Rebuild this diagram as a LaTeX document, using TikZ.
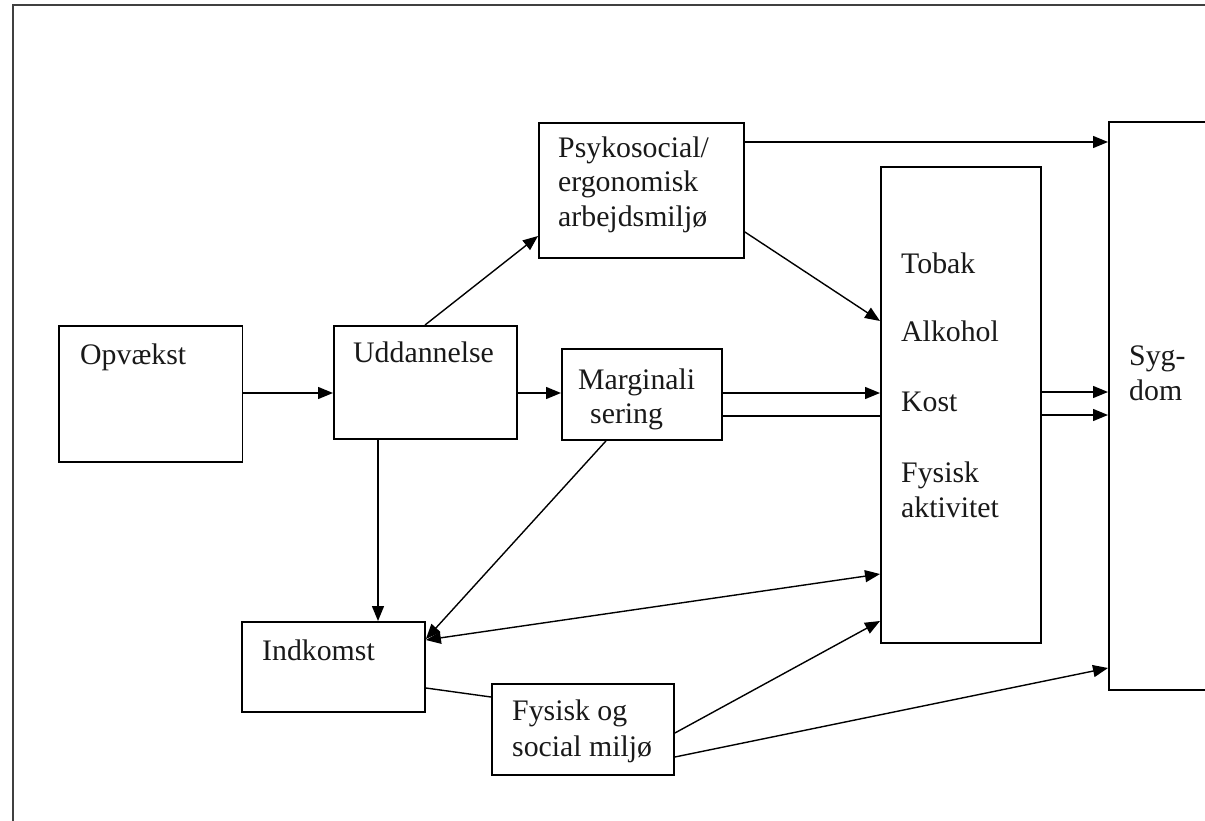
\documentclass[tikz,border=0pt]{standalone}
\usepackage{fontspec}
\setmainfont{Liberation Serif}
\usetikzlibrary{arrows.meta}
\begin{document}
\begin{tikzpicture}[x=1pt,y=-1pt,
 box/.style={draw, line width=1.9pt, rectangle, inner sep=0pt, anchor=north west},
 txt/.style={inner sep=0pt, anchor=base west, text=black!90, font=\fontsize{29.8}{34}\selectfont},
 arr/.style={line width=1.4pt, -{Triangle[length=15pt,width=12pt]}},
 con/.style={line width=1.4pt},
 dbl/.style={line width=1.4pt, {Triangle[length=15pt,width=12pt]}-{Triangle[length=15pt,width=12pt]}}]
\useasboundingbox (0,0) rectangle (1205,821);
\clip (0,0) rectangle (1205,821);
\draw[line width=2.4pt, black!75] (13,830) -- (13,5) -- (1215,5);
% boxes
\node[box, minimum width=183.5pt, minimum height=136pt] (opv) at (58,325) {};
\node[box, minimum width=183pt, minimum height=113pt] (udd) at (333,325) {};
\node[box, minimum width=205pt, minimum height=135pt] (psy) at (538,122) {};
\node[box, minimum width=160pt, minimum height=91pt] (mar) at (561,348) {};
\node[box, minimum width=160pt, minimum height=476pt] (tob) at (880,166) {};
\node[box, minimum width=250pt, minimum height=568pt] (syg) at (1108,121) {};
\node[box, minimum width=183pt, minimum height=90pt] (ind) at (241,621) {};
\node[box, minimum width=182pt, minimum height=91pt] (fys) at (491,683) {};
% texts
\node[txt] (t1) at (80,364) {Opvækst};
\node[txt] (t2) at (353,362) {Uddannelse};
\node[txt] (t3) at (558,157.5) {Psykosocial/};
\node[txt] (t4) at (558,192) {ergonomisk};
\node[txt] (t5) at (558,226.5) {arbejdsmiljø};
\node[txt] (t6) at (578,389) {Marginali};
\node[txt] (t7) at (590,423) {sering};
\node[txt] (t8) at (901,273) {Tobak};
\node[txt] (t9) at (901,341) {Alkohol};
\node[txt] (t10) at (901,411) {Kost};
\node[txt] (t11) at (901,482) {Fysisk};
\node[txt] (t12) at (901,517) {aktivitet};
\node[txt] (t13) at (1129,365) {Syg-};
\node[txt] (t14) at (1129,400) {dom};
\node[txt] (t15) at (262,660) {Indkomst};
\node[txt] (t16) at (512,720) {Fysisk og};
\node[txt] (t17) at (512,756) {social miljø};
% connectors
\draw[arr] (opv.east |- 0,393) -- (udd.west |- 0,393);
\draw[arr] (udd.east |- 0,393) -- (mar.west |- 0,393);
\draw[arr] (udd.north -| 425,0) -- (psy.west |- 0,236);
\draw[arr] (psy.east |- 0,142) -- (syg.west |- 0,142);
\draw[arr] (psy.east |- 0,232) -- (tob.west |- 0,321);
\draw[arr] (mar.east |- 0,393) -- (tob.west |- 0,393);
\draw[con] (mar.east |- 0,416) -- (tob.west |- 0,416);
\draw[arr] (tob.east |- 0,392) -- (syg.west |- 0,392);
\draw[arr] (tob.east |- 0,415) -- (syg.west |- 0,415);
\draw[arr] (udd.south -| 378,0) -- (ind.north -| 378,0);
\draw[arr] (mar.south -| 606,0) -- (ind.east |- 0,639);
\draw[dbl] (ind.east |- 0,640) -- (tob.west |- 0,574);
\draw[con] (ind.east |- 0,688) -- (fys.west |- 0,697);
\draw[arr] (fys.east |- 0,733) -- (tob.west |- 0,621);
\draw[arr] (fys.east |- 0,757) -- (syg.west |- 0,668);
\end{tikzpicture}
\end{document}
